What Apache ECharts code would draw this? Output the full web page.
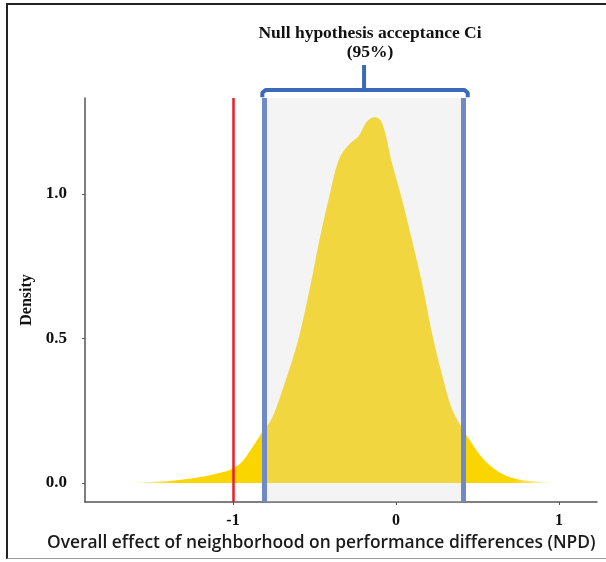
<!DOCTYPE html>
<html>
<head>
<meta charset="utf-8">
<script src="https://cdn.jsdelivr.net/npm/echarts@6/dist/echarts.min.js"></script>
<style>
  html, body { margin: 0; padding: 0; background: #fff; }
  #main { width: 606px; height: 562px; }
  .frame { position: absolute; left: 6px; top: 3px; width: 600px; height: 556px;
    border-top: 2px solid #222; border-left: 2px solid #222; border-bottom: 1px solid #9a9a9a;
    box-sizing: border-box; pointer-events: none; }
</style>
</head>
<body>
<div id="main"></div>
<div class="frame"></div>
<script>
// density curve
var npdX = [-1.65, -1.5, -1.33, -1.19, -1.1, -1.02, -0.95, -0.9, -0.82, -0.76, -0.68, -0.6, -0.53, -0.47, -0.41, -0.35, -0.29, -0.23, -0.18, -0.13, -0.085, -0.025, 0.037, 0.098, 0.16, 0.22, 0.28, 0.34, 0.405, 0.45, 0.53, 0.63, 0.74, 0.88, 0.98]
var density = [0.0, 0.003, 0.01, 0.021, 0.033, 0.045, 0.07, 0.107, 0.176, 0.225, 0.35, 0.495, 0.67, 0.84, 0.99, 1.12, 1.17, 1.2, 1.25, 1.266, 1.245, 1.107, 0.98, 0.84, 0.69, 0.52, 0.38, 0.26, 0.19, 0.15, 0.086, 0.038, 0.014, 0.004, 0.0]
var xTicks = [-1, 0, 1]
var yTicks = [0, 0.5, 1.0]
var ciLow = -0.81
var ciHigh = 0.41
var observed = -1.0

var myChart = echarts.init(document.getElementById('main'))

var curve = []
for (let i = 0; i < npdX.length; i++) {
  curve.push([npdX[i], density[i]])
}

var serifBold = {
  fontFamily: 'Liberation Serif, Times New Roman, serif',
  fontWeight: 'bold',
  fontSize: 16,
  color: '#111'
}

var option = {
  backgroundColor: '#fff',
  animation: false,
  title: {
    text: 'Null hypothesis acceptance Ci\n(95%)',
    left: 365,
    top: 19,
    textAlign: 'center',
    textStyle: Object.assign({}, serifBold, { fontSize: 17.5, lineHeight: 19 })
  },
  graphic: [
    {
      type: 'text',
      left: 47,
      top: 535,
      style: {
        text: 'Overall effect of neighborhood on performance differences (NPD)',
        font: '600 17.4px "Open Sans", sans-serif',
        fill: '#1a1a1a'
      }
    }
  ],
  grid: { left: 85, right: 9, top: 98, bottom: 60 },
  xAxis: {
    type: 'value',
    min: -1.908,
    max: 1.233,
    splitLine: { show: false },
    axisLine: { onZero: false, lineStyle: { color: '#555', width: 1.5 } },
    axisTick: { customValues: xTicks, length: 3, lineStyle: { color: '#555' } },
    axisLabel: Object.assign({}, serifBold, { customValues: xTicks, margin: 11 })
  },
  yAxis: {
    type: 'value',
    min: -0.066,
    max: 1.332,
    name: 'Density',
    nameLocation: 'middle',
    nameGap: 50,
    nameTextStyle: Object.assign({}, serifBold, { fontSize: 16 }),
    splitLine: { show: false },
    axisLine: { show: true, onZero: false, lineStyle: { color: '#555', width: 1.5 } },
    axisTick: { customValues: yTicks, length: 3, lineStyle: { color: '#555' } },
    axisLabel: Object.assign({}, serifBold, {
      fontSize: 17,
      customValues: yTicks,
      margin: 18,
      formatter: function (v) { return v.toFixed(1) }
    })
  },
  series: [
    {
      type: 'line',
      data: curve,
      smooth: 0.35,
      showSymbol: false,
      silent: true,
      z: 2,
      lineStyle: { width: 0, opacity: 0 },
      areaStyle: {
        origin: 'auto',
        opacity: 1,
        color: new echarts.graphic.LinearGradient(0, 0, 1, 0, [
          { offset: 0, color: 'rgba(251,213,0,0)' },
          { offset: 0.11, color: 'rgba(251,213,0,1)' },
          { offset: 0.9, color: 'rgba(251,213,0,1)' },
          { offset: 1, color: 'rgba(251,213,0,0)' }
        ])
      }
    },
    {
      // acceptance band over the curve
      type: 'line',
      data: curve,
      showSymbol: false,
      silent: true,
      z: 3,
      lineStyle: { opacity: 0 },
      markArea: {
        silent: true,
        z: 10,
        itemStyle: { color: 'rgba(217,217,217,0.29)' },
        data: [[{ xAxis: ciLow }, { xAxis: ciHigh }]]
      },
      markLine: {
        silent: true,
        z: 12,
        symbol: 'none',
        label: { show: false },
        data: [
          { xAxis: ciLow, lineStyle: { color: '#6f8ac6', width: 5, type: 'solid' } },
          { xAxis: ciHigh, lineStyle: { color: '#6f8ac6', width: 5, type: 'solid' } },
          { xAxis: observed, lineStyle: { color: '#ec1c24', width: 2.5, type: 'solid' } }
        ]
      }
    },
    {
      // bracket above the band
      type: 'line',
      clip: false,
      silent: true,
      showSymbol: false,
      z: 4,
      lineStyle: { color: '#3b68b8', width: 4 },
      data: [[ciLow - 0.01, 1.335], [ciLow - 0.01, 1.35], [ciLow + 0.01, 1.36], [ciHigh + 0.01, 1.36], [ciHigh + 0.03, 1.35], [ciHigh + 0.03, 1.335]]
    },
    {
      type: 'line',
      clip: false,
      silent: true,
      showSymbol: false,
      z: 4,
      lineStyle: { color: '#3b68b8', width: 4 },
      data: [[-0.196, 1.36], [-0.196, 1.446]]
    }
  ]
}

myChart.setOption(option, true)
</script>
</body>
</html>
